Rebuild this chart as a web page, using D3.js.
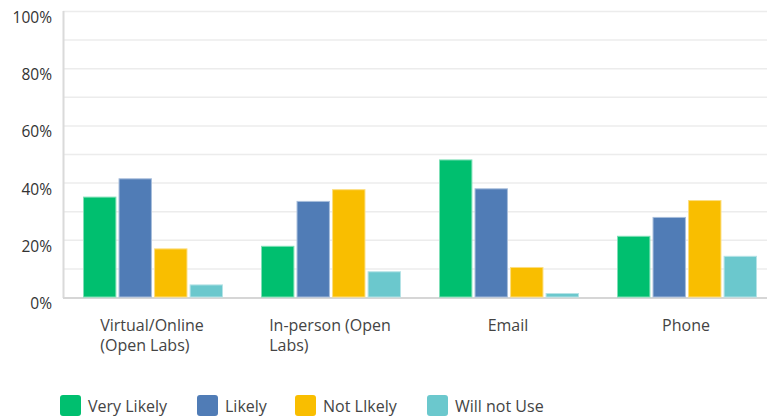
<!DOCTYPE html>
<html><head><meta charset="utf-8">
<script src="https://cdn.jsdelivr.net/npm/d3@7/dist/d3.min.js"></script>
<style>html,body{margin:0;padding:0;background:#fff;overflow:hidden}</style>
</head><body>
<svg id="chart" width="767" height="417"></svg>
<script>
const categories = [["Virtual/Online","(Open Labs)"],["In-person (Open","Labs)"],["Email"],["Phone"]];
const seriesNames = ["Very Likely","Likely","Not LIkely","Will not Use"];
const veryLikely = [35.1, 17.9, 48.1, 21.4];
const likely = [41.5, 33.6, 38.0, 28.0];
const notLikely = [17.0, 37.7, 10.5, 33.9];
const willNotUse = [4.4, 9.0, 1.4, 14.4];
const yTicks = [0, 20, 40, 60, 80, 100];
const gridTicks = [10, 20, 30, 40, 50, 60, 70, 80, 90, 100];
const colors = ["#00BF6F", "#507CB6", "#F9BE00", "#6BC8CD"];
const strokes = ["#7fdfb7", "#a7bddb", "#fcde80", "#b5e3e6"];

const series = [veryLikely, likely, notLikely, willNotUse];
const svg = d3.select("#chart");
const font = "'Open Sans', sans-serif";

const y = d3.scaleLinear().domain([0, 100]).range([297, 11]);
const x = d3.scaleBand().domain(d3.range(categories.length)).range([63, 775]);
const xi = d3.scaleBand().domain(d3.range(series.length)).range([20, 160]).paddingInner(0.06);

svg.append("g").selectAll("line").data(gridTicks).join("line")
  .attr("x1", 63).attr("x2", 767)
  .attr("y1", d => y(d) + 0.5).attr("y2", d => y(d) + 0.5)
  .attr("stroke", "#ececec").attr("stroke-width", 1.5);

svg.append("line").attr("x1", 63.5).attr("x2", 63.5).attr("y1", 11).attr("y2", 298)
  .attr("stroke", "#dadada").attr("stroke-width", 2);
svg.append("line").attr("x1", 63).attr("x2", 767).attr("y1", 298).attr("y2", 298)
  .attr("stroke", "#d6d6d6").attr("stroke-width", 2);

svg.append("g").selectAll("text").data(yTicks).join("text")
  .attr("x", 52).attr("y", d => y(d) + 12)
  .attr("text-anchor", "end")
  .attr("font-family", font).attr("font-size", 15.5).attr("fill", "#333")
  .text(d => d + "%");

const groups = svg.append("g").selectAll("g").data(categories).join("g")
  .attr("transform", (d, i) => `translate(${x(i)},0)`);
groups.each(function(c, ci) {
  d3.select(this).selectAll("rect").data(series.map((s, si) => ({si, v: s[ci]}))).join("rect")
    .attr("x", d => xi(d.si) + 0.5)
    .attr("width", xi.bandwidth() - 1)
    .attr("y", d => y(d.v) + 0.5)
    .attr("height", d => y(0) - y(d.v) - 0.5)
    .attr("fill", d => colors[d.si])
    .attr("stroke", d => strokes[d.si]).attr("stroke-width", 1);
});

groups.each(function(c, ci) {
  const g = d3.select(this);
  const t = g.append("text").attr("font-family", font).attr("font-size", 16).attr("fill", "#444");
  c.forEach((line, li) => {
    t.append("tspan").attr("x", 0).attr("y", 331 + li * 20).text(line);
  });
  const w = t.node().getBBox().width;
  t.attr("transform", `translate(${x.bandwidth() / 2 - w / 2},0)`);
});

const legX = [60, 197, 295, 427];
const leg = svg.append("g").selectAll("g").data(seriesNames).join("g")
  .attr("transform", (d, i) => `translate(${legX[i]},395)`);
leg.append("rect").attr("width", 21).attr("height", 21).attr("rx", 3)
  .attr("fill", (d, i) => colors[i]);
leg.append("text").attr("x", 28).attr("y", 16.5)
  .attr("font-family", font).attr("font-size", 16).attr("fill", "#444")
  .text(d => d);
</script>
</body></html>
